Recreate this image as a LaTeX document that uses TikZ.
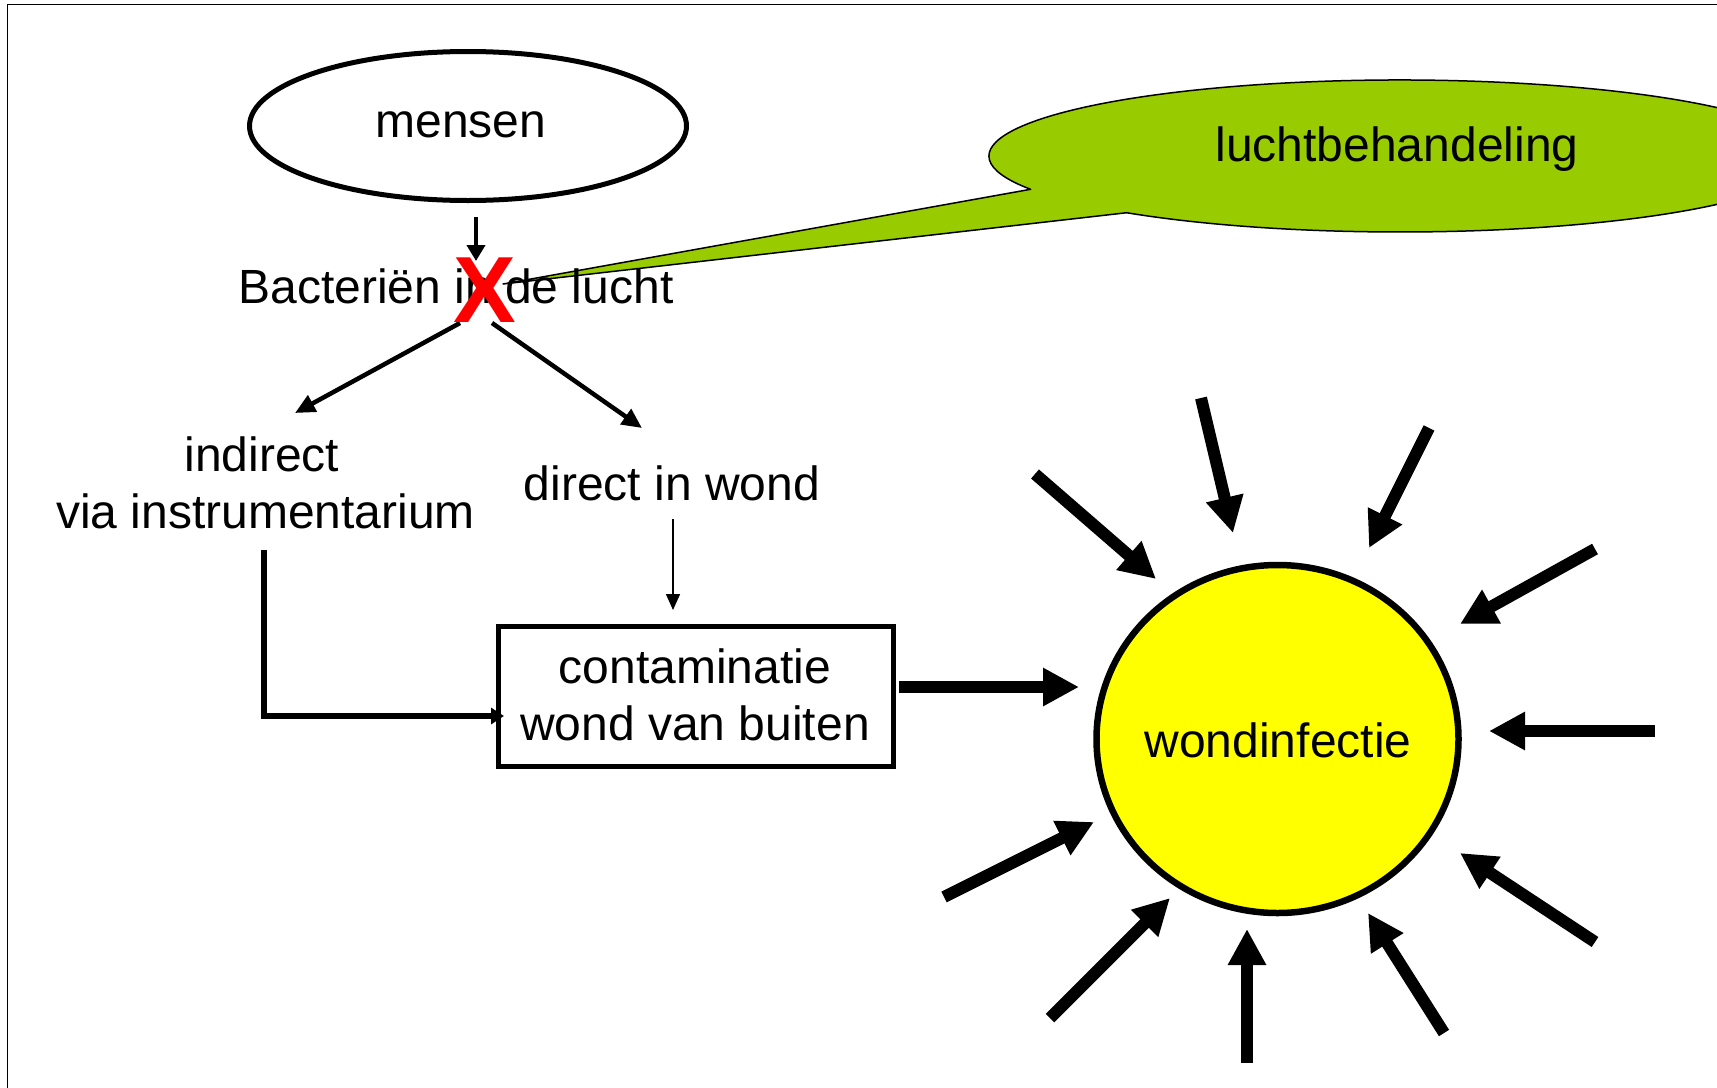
\documentclass[tikz,border=0pt]{standalone}
\usepackage{fontspec}
\setmainfont{Liberation Sans}
\usetikzlibrary{arrows.meta,shapes.geometric}
\definecolor{callgreen}{HTML}{99CC00}
\definecolor{sunyellow}{HTML}{FFFF00}
\definecolor{xred}{HTML}{FF0000}
\begin{document}
\begin{tikzpicture}[x=0.5pt,y=-0.5pt,
  txt/.style={inner sep=0pt, outer sep=0pt, anchor=base, font=\fontsize{24}{27}\selectfont},
  ray/.style={line width=6pt, -{Triangle[length=18pt,width=18pt]}},
  midarrow/.style={line width=2.25pt, -{Triangle[length=10pt,width=9pt]}},
  thinarrow/.style={line width=0.75pt, -{Triangle[length=8pt,width=7pt]}},
  elbowarrow/.style={line width=2.75pt, -{Triangle[length=6.5pt,width=8pt]}},
  blob/.style={draw, ellipse, inner sep=0pt, outer sep=0pt}
]
\useasboundingbox (0,0) rectangle (1717,1087);
\clip (0,0) rectangle (1717,1087);
\fill[white] (0,0) rectangle (1717,1087);
% frame
\draw[line width=0.75pt] (7.5,1200) -- (7.5,4.5) -- (1800,4.5);

% callout
\coordinate (calA) at (1030.6,189.3);
\coordinate (calTip) at (503,284);
\draw[fill=callgreen, line width=0.75pt, line join=round]
  (calA) arc[start angle=154, end angle=491.7, x radius=411, y radius=76] -- (calTip) -- cycle;
\node[txt] (lucht) at (1397,161) {luchtbehandeling};

% mensen
\node[blob, line width=2.5pt, minimum width=218.5pt, minimum height=74.5pt] (mensen) at (468,126) {};
\node[txt] (mensentxt) at (461,137) {mensen};

% Bacterien
\node[txt] (bact) at (456,303) {Bacteriën in de lucht};

% indirect / direct
\node[txt] (ind1) at (262,471) {indirect};
\node[txt] (ind2) at (265.5,528) {via instrumentarium};
\node[txt] (direct) at (672,500) {direct in wond};

% box
\node[draw, line width=2.5pt, minimum width=197.5pt, minimum height=70pt, inner sep=0pt] (box) at (696,696) {};
\node[txt] (box1) at (695,683) {contaminatie};
\node[txt] (box2) at (695,740) {wond van buiten};

% sun
\node[blob, fill=sunyellow, line width=3.25pt, minimum width=181pt, minimum height=174pt] (sun) at (1277.5,739) {};
\node[txt] (wond) at (1278,757) {wondinfectie};

% connector coordinates
\coordinate (m1) at (476,217);   \coordinate (m2) at (476,261);
\coordinate (bL) at (460,323);   \coordinate (iT) at (295,413);
\coordinate (bR) at (492,323);   \coordinate (dT) at (642,428);
\coordinate (d1) at (673,519);   \coordinate (d2) at (673,610);
\coordinate (e1) at (264,550);   \coordinate (e2) at (504,716);
\coordinate (bx1) at (899,687);  \coordinate (bx2) at (1079,687);

\draw[midarrow, -{Triangle[length=8pt,width=9pt]}] (m1) -- (m2);
\draw[midarrow] (bL) -- (iT);
\draw[midarrow] (bR) -- (dT);
\draw[thinarrow] (d1) -- (d2);
\draw[elbowarrow] (e1) |- (e2);
\draw[ray] (bx1) -- (bx2);

% rays
\foreach \n/\xa/\ya/\xb/\yb in {
  1/1035/474/1156/579,
  2/1201/398/1233/533,
  3/1429/428/1369/548,
  4/1595/549/1460/624,
  5/1655/731/1489/731,
  6/1595/942/1460/853,
  7/1444/1033/1368/913,
  8/1247/1063/1247/929,
  9/1050/1018/1170/898,
  10/944/897/1094/822}{
  \coordinate (rs\n) at (\xa,\ya);
  \coordinate (rt\n) at (\xb,\yb);
  \draw[ray] (rs\n) -- (rt\n);
}

% red cross
\node[inner sep=0pt, anchor=base, text=xred, font=\fontsize{47}{47}\selectfont\bfseries] (kruis) at (485,322) {X};
\end{tikzpicture}
\end{document}
